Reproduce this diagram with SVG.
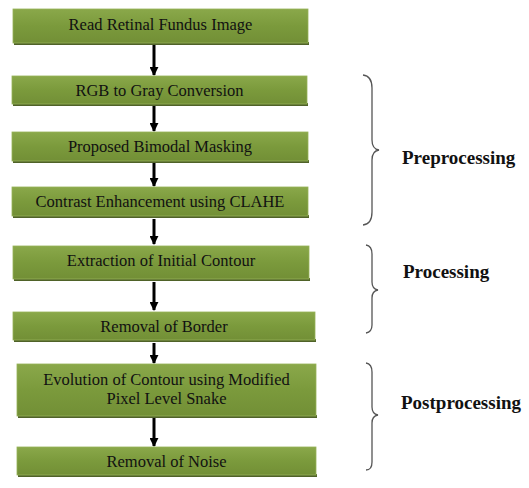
<svg xmlns="http://www.w3.org/2000/svg" width="529" height="488" viewBox="0 0 529 488">
<defs>
<linearGradient id="g" x1="0" y1="0" x2="0" y2="1">
<stop offset="0" stop-color="#8aa84a"/>
<stop offset="0.5" stop-color="#7b9a3c"/>
<stop offset="1" stop-color="#728f36"/>
</linearGradient>
<marker id="ah" viewBox="0 0 10 10" refX="9" refY="5" markerWidth="3" markerHeight="3" orient="auto" markerUnits="strokeWidth">
<path d="M0,0 L10,5 L0,10 z" fill="#000"/>
</marker>
</defs>
<style>
.box{fill:url(#g);stroke:#96b258;stroke-width:0.8}
.sh{fill:#4f6228}
.t{font-family:"Liberation Serif","Times New Roman",serif;font-size:16.5px;fill:#111;text-anchor:middle}
.lbl{font-family:"Liberation Serif","Times New Roman",serif;font-size:19px;font-weight:bold;fill:#111}
.arr{stroke:#000;stroke-width:3;fill:none;marker-end:url(#ah)}
.br{stroke:#555;stroke-width:1.3;fill:none}
</style>
<rect width="529" height="488" fill="#fff"/>
<g id="connectors">
<line class="arr" x1="154" y1="45" x2="154" y2="75"/>
<line class="arr" x1="154" y1="106" x2="154" y2="131"/>
<line class="arr" x1="154" y1="163" x2="154" y2="186"/>
<line class="arr" x1="154" y1="219" x2="154" y2="244"/>
<line class="arr" x1="154" y1="282" x2="154" y2="310"/>
<line class="arr" x1="154" y1="343" x2="154" y2="363"/>
<line class="arr" x1="154" y1="418" x2="154" y2="446"/>
</g>
<g id="n1"><rect class="sh" x="14" y="42" width="295" height="3"/><rect class="box" x="13" y="9" width="295" height="34"/><text class="t" x="160.5" y="30">Read Retinal Fundus Image</text></g>
<g id="n2"><rect class="sh" x="13" y="103" width="295" height="3"/><rect class="box" x="12" y="76" width="295" height="28"/><text class="t" x="159.5" y="96">RGB to Gray Conversion</text></g>
<g id="n3"><rect class="sh" x="13" y="160" width="296" height="3"/><rect class="box" x="12" y="132" width="296" height="29"/><text class="t" x="160" y="152">Proposed Bimodal Masking</text></g>
<g id="n4"><rect class="sh" x="13" y="215" width="296" height="3"/><rect class="box" x="12" y="187" width="296" height="29"/><text class="t" x="160" y="207">Contrast Enhancement using CLAHE</text></g>
<g id="n5"><rect class="sh" x="14" y="278" width="296" height="3"/><rect class="box" x="13" y="246" width="296" height="33"/><text class="t" x="161" y="266">Extraction of Initial Contour</text></g>
<g id="n6"><rect class="sh" x="14" y="339" width="302" height="3"/><rect class="box" x="13" y="312" width="302" height="28"/><text class="t" x="164" y="332">Removal of Border</text></g>
<g id="n7"><rect class="sh" x="18" y="415" width="299" height="3"/><rect class="box" x="17" y="364" width="299" height="52"/><text class="t" x="166.5" y="385">Evolution of Contour using Modified</text><text class="t" x="166.5" y="404">Pixel Level Snake</text></g>
<g id="n8"><rect class="sh" x="18" y="474" width="299" height="3"/><rect class="box" x="17" y="447" width="299" height="28"/><text class="t" x="166.5" y="467">Removal of Noise</text></g>
<g id="brace-pre"><path class="br" d="M363,75 Q372,76 372,88 L372,140 Q372,149 379,150 Q372,151 372,160 L372,212 Q372,224 363,225"/><text class="lbl" x="402" y="164">Preprocessing</text></g>
<g id="brace-proc"><path class="br" d="M366,245 Q372,246 372,254 L372,282 Q372,289 378,290 Q372,291 372,298 L372,325 Q372,332 366,333"/><text class="lbl" x="403" y="278">Processing</text></g>
<g id="brace-post"><path class="br" d="M366,363 Q372,364 372,372 L372,407 Q372,414 378,415 Q372,416 372,423 L372,462 Q372,470 366,470"/><text class="lbl" x="401" y="409">Postprocessing</text></g>
</svg>
